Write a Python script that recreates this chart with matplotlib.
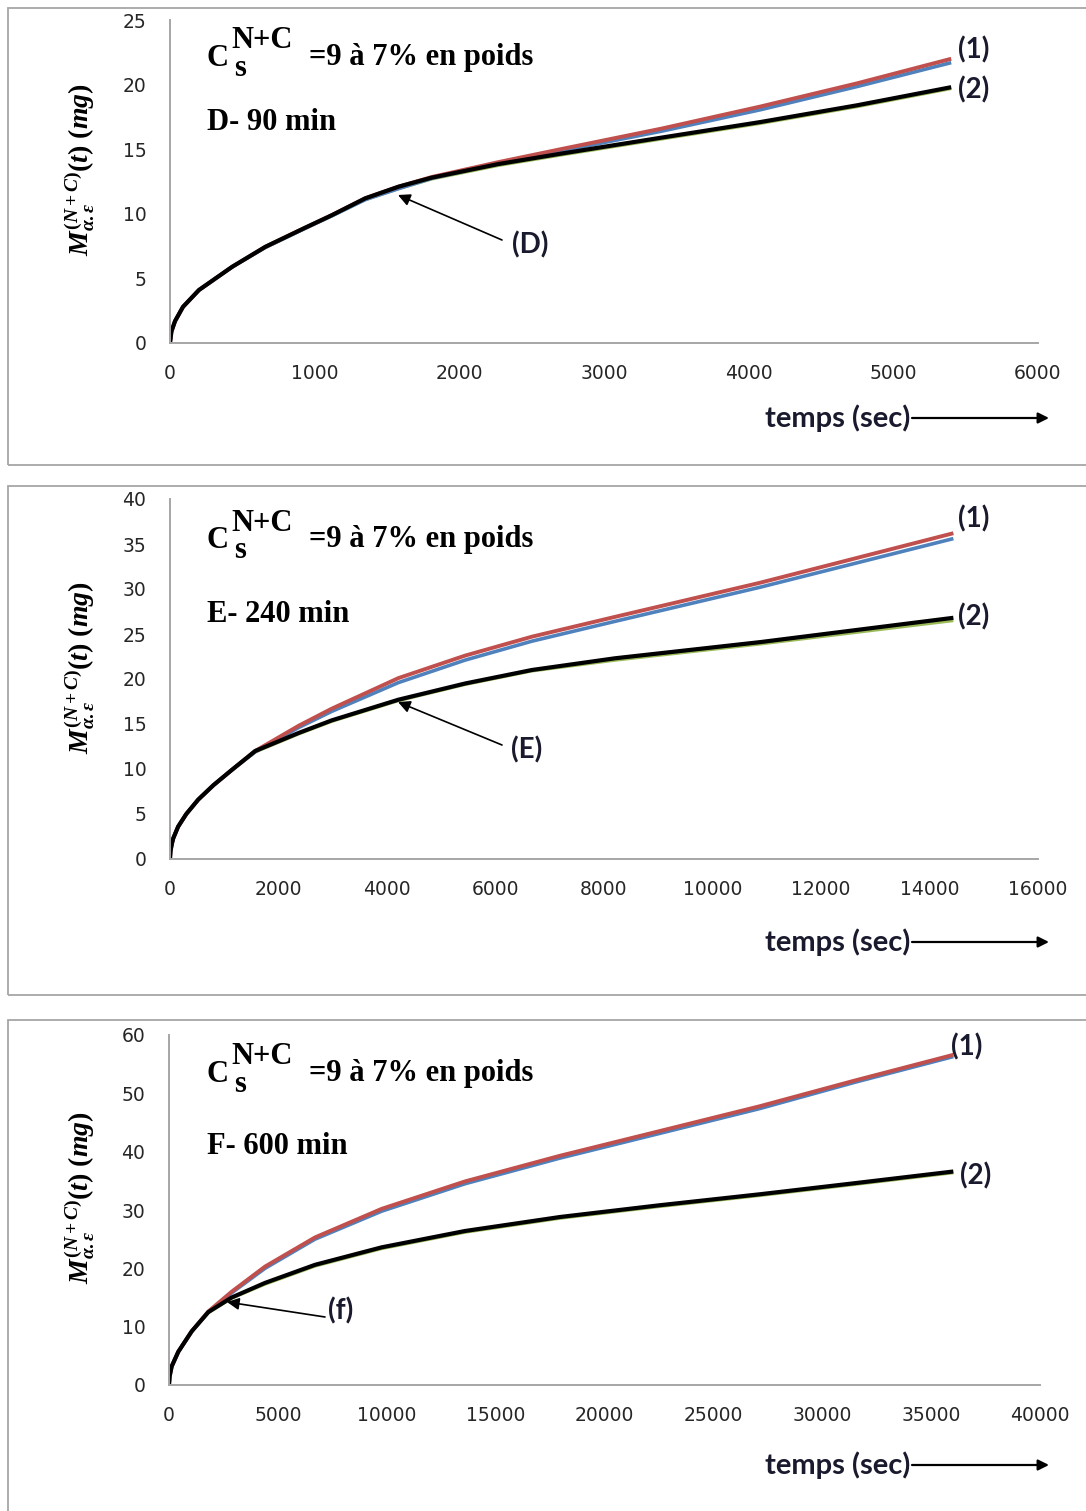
import matplotlib
matplotlib.use('Agg')
import matplotlib.pyplot as plt
from matplotlib.patches import Rectangle

# ---------------- data ----------------
# Panel D - 90 min
t_D = [0, 10, 35, 90, 200, 430, 660, 930, 1120, 1350, 1580, 1810, 2270, 2700, 3400, 4080, 4750, 5400]
D_red = [0, 0.9, 1.7, 2.8, 4.1, 5.9, 7.45, 8.9, 9.9, 11.2, 12.1, 12.85, 14.0, 15.0, 16.6, 18.3, 20.1, 22.0]
D_blue = [0, 0.9, 1.7, 2.8, 4.1, 5.9, 7.4, 8.85, 9.85, 11.1, 11.95, 12.75, 13.9, 14.85, 16.4, 18.05, 19.85, 21.7]
D_green = [0, 0.9, 1.7, 2.8, 4.1, 5.9, 7.4, 8.85, 9.85, 11.1, 11.95, 12.7, 13.75, 14.55, 15.8, 17.0, 18.3, 19.7]
D_black = [0, 0.9, 1.7, 2.8, 4.1, 5.9, 7.45, 8.9, 9.9, 11.2, 12.1, 12.8, 13.85, 14.65, 15.9, 17.1, 18.4, 19.8]

# Panel E - 240 min
t_E = [0, 10, 35, 60, 150, 300, 520, 800, 1140, 1570, 2370, 2980, 4210, 5440, 6670, 8200, 10880, 14440]
E_red = [0, 0.9, 1.7, 2.3, 3.6, 5.0, 6.6, 8.2, 9.9, 12.0, 14.8, 16.7, 20.1, 22.6, 24.7, 26.9, 30.7, 36.2]
E_blue = [0, 0.9, 1.7, 2.3, 3.6, 5.0, 6.6, 8.2, 9.9, 11.9, 14.6, 16.4, 19.6, 22.1, 24.2, 26.4, 30.2, 35.6]
E_green = [0, 0.9, 1.7, 2.3, 3.6, 5.0, 6.6, 8.2, 9.9, 11.9, 13.9, 15.3, 17.6, 19.4, 20.9, 22.1, 23.9, 26.5]
E_black = [0, 0.9, 1.7, 2.3, 3.6, 5.0, 6.6, 8.2, 9.9, 12.0, 14.0, 15.4, 17.7, 19.5, 21.0, 22.3, 24.1, 26.8]

# Panel F - 600 min
t_F = [0, 30, 124, 427, 1042, 1805, 2879, 4409, 6705, 9768, 13594, 17957, 22500, 27142, 31500, 36019]
F_red = [0, 1.5, 3.2, 5.7, 9.2, 12.6, 16.0, 20.3, 25.3, 30.2, 34.9, 39.3, 43.5, 47.8, 52.2, 56.6]
F_blue = [0, 1.5, 3.2, 5.7, 9.2, 12.5, 15.8, 20.0, 25.0, 29.8, 34.5, 38.9, 43.1, 47.4, 51.9, 56.3]
F_green = [0, 1.5, 3.2, 5.7, 9.2, 12.4, 14.9, 17.3, 20.4, 23.4, 26.2, 28.6, 30.6, 32.5, 34.4, 36.4]
F_black = [0, 1.5, 3.2, 5.7, 9.2, 12.5, 15.0, 17.5, 20.6, 23.6, 26.4, 28.8, 30.8, 32.7, 34.6, 36.6]

x_ticks_D = [0, 1000, 2000, 3000, 4000, 5000, 6000]
y_ticks_D = [0, 5, 10, 15, 20, 25]
x_ticks_E = [0, 2000, 4000, 6000, 8000, 10000, 12000, 14000, 16000]
y_ticks_E = [0, 5, 10, 15, 20, 25, 30, 35, 40]
x_ticks_F = [0, 5000, 10000, 15000, 20000, 25000, 30000, 35000, 40000]
y_ticks_F = [0, 10, 20, 30, 40, 50, 60]

panel_titles = ['D- 90 min', 'E- 240 min', 'F- 600 min']
arrow_labels = ['(D)', '(E)', '(f)']
conc_text = '=9 à 7% en poids'
xlabel_text = 'temps (sec)'
ylabel_text = r'$M_{\alpha.\varepsilon}^{(N+C)}(t)\ (mg)$'

# ---------------- style ----------------
plt.rcParams['mathtext.fontset'] = 'custom'
plt.rcParams['mathtext.it'] = 'Liberation Serif:italic:bold'
plt.rcParams['mathtext.rm'] = 'Liberation Serif:bold'
plt.rcParams['mathtext.bf'] = 'Liberation Serif:bold'
plt.rcParams['font.family'] = ['DejaVu Sans']

W, H = 1086, 1511
fig = plt.figure(figsize=(W / 100, H / 100), dpi=100)
fig.patch.set_facecolor('white')


def fx(x):
    return x / W


def fy(y):
    return 1 - y / H


RED, BLUE, GREEN, BLACK = '#C0504D', '#4F81BD', '#9BBB59', '#000000'
LAB_COLOR = '#1a1a2e'
serif = dict(family='Liberation Serif', weight='bold', color='black')
sans = dict(family='Lato', weight='bold', color=LAB_COLOR)

panels = [
    dict(t=t_D, r=D_red, b=D_blue, g=D_green, k=D_black, xt=x_ticks_D, yt=y_ticks_D,
         box=(8, 465), ax=(170, 1038, 20, 343), title_y=123, conc_y=57,
         lab1=(958, 50), lab2=(958, 90), tip=(398, 195), tail=(502, 240), alab=(512, 245),
         temps_y=418, ylab_y=170),
    dict(t=t_E, r=E_red, b=E_blue, g=E_green, k=E_black, xt=x_ticks_E, yt=y_ticks_E,
         box=(486, 995), ax=(170, 1038, 499, 859), title_y=614, conc_y=540,
         lab1=(958, 519), lab2=(958, 617), tip=(398, 702), tail=(502, 745), alab=(511, 750),
         temps_y=942, ylab_y=668),
    dict(t=t_F, r=F_red, b=F_blue, g=F_green, k=F_black, xt=x_ticks_F, yt=y_ticks_F,
         box=(1020, 1530), ax=(169, 1040, 1035, 1385), title_y=1146, conc_y=1074,
         lab1=(951, 1047), lab2=(960, 1176), tip=(227, 1302), tail=(325, 1317), alab=(328, 1311),
         temps_y=1465, ylab_y=1198),
]

for i, p in enumerate(panels):
    # panel frame
    top, bot = p['box']
    fig.add_artist(Rectangle((fx(8), fy(bot)), fx(1100) - fx(8), (bot - top) / H,
                             transform=fig.transFigure, fill=False, ec='#a6a6a6', lw=1.3))
    l, r, t, b = p['ax']
    ax = fig.add_axes([fx(l), fy(b), (r - l) / W, (b - t) / H])
    ax.set_facecolor('none')
    ax.plot(p['t'], p['g'], color=GREEN, lw=2.4, solid_capstyle='butt', solid_joinstyle='round')
    ax.plot(p['t'], p['b'], color=BLUE, lw=2.6, solid_capstyle='butt', solid_joinstyle='round')
    ax.plot(p['t'], p['r'], color=RED, lw=2.8, solid_capstyle='butt', solid_joinstyle='round')
    ax.plot(p['t'], p['k'], color=BLACK, lw=3.0, solid_capstyle='butt', solid_joinstyle='round')
    ax.set_xlim(p['xt'][0], p['xt'][-1])
    ax.set_ylim(p['yt'][0], p['yt'][-1])
    ax.set_xticks(p['xt'])
    ax.set_yticks(p['yt'])
    ax.set_xticklabels([str(v) for v in p['xt']])
    ax.set_yticklabels([str(v) for v in p['yt']])
    for s in ('top', 'right'):
        ax.spines[s].set_visible(False)
    for s in ('left', 'bottom'):
        ax.spines[s].set_color('#a6a6a6')
        ax.spines[s].set_linewidth(1.4)
    ax.tick_params(length=0, labelsize=13.5, colors='#262626')
    ax.tick_params(axis='x', pad=15)
    ax.tick_params(axis='y', pad=17)

    # concentration text  C_s^{N+C} =9 à 7% en poids
    cy = p['conc_y']
    fig.text(fx(207), fy(cy + 1), 'C', fontsize=22, va='center', ha='left', **serif)
    fig.text(fx(231), fy(cy - 17), 'N+C', fontsize=22, va='center', ha='left', **serif)
    fig.text(fx(234), fy(cy + 11), 's', fontsize=22, va='center', ha='left', **serif)
    fig.text(fx(309), fy(cy), conc_text, fontsize=22, va='center', ha='left', **serif)
    fig.text(fx(207), fy(p['title_y']), panel_titles[i], fontsize=22, va='center', ha='left', **serif)

    # curve labels
    fig.text(fx(p['lab1'][0]), fy(p['lab1'][1]), '(1)', fontsize=20, va='center', ha='left', **sans)
    fig.text(fx(p['lab2'][0]), fy(p['lab2'][1]), '(2)', fontsize=20, va='center', ha='left', **sans)

    # pointer arrow
    ax.annotate('', xy=(fx(p['tip'][0]), fy(p['tip'][1])),
                xytext=(fx(p['tail'][0]), fy(p['tail'][1])),
                xycoords='figure fraction', textcoords='figure fraction',
                arrowprops=dict(arrowstyle='-|>', color='black', lw=1.2,
                                mutation_scale=18, shrinkA=0, shrinkB=0))
    fig.text(fx(p['alab'][0]), fy(p['alab'][1]), arrow_labels[i], fontsize=20,
             va='center', ha='left', **sans)

    # x label with arrow
    ty = p['temps_y']
    fig.text(fx(910), fy(ty), xlabel_text, fontsize=21, va='center', ha='right', **sans)
    ax.annotate('', xy=(fx(1049), fy(ty)), xytext=(fx(912), fy(ty)),
                xycoords='figure fraction', textcoords='figure fraction',
                arrowprops=dict(arrowstyle='-|>', color='black', lw=1.6,
                                mutation_scale=16, shrinkA=0, shrinkB=0))

    # y label
    fig.text(fx(80), fy(p['ylab_y']), ylabel_text, fontsize=20, rotation=90,
             va='center', ha='center')

fig.savefig('out.png', dpi=100, facecolor='white')
